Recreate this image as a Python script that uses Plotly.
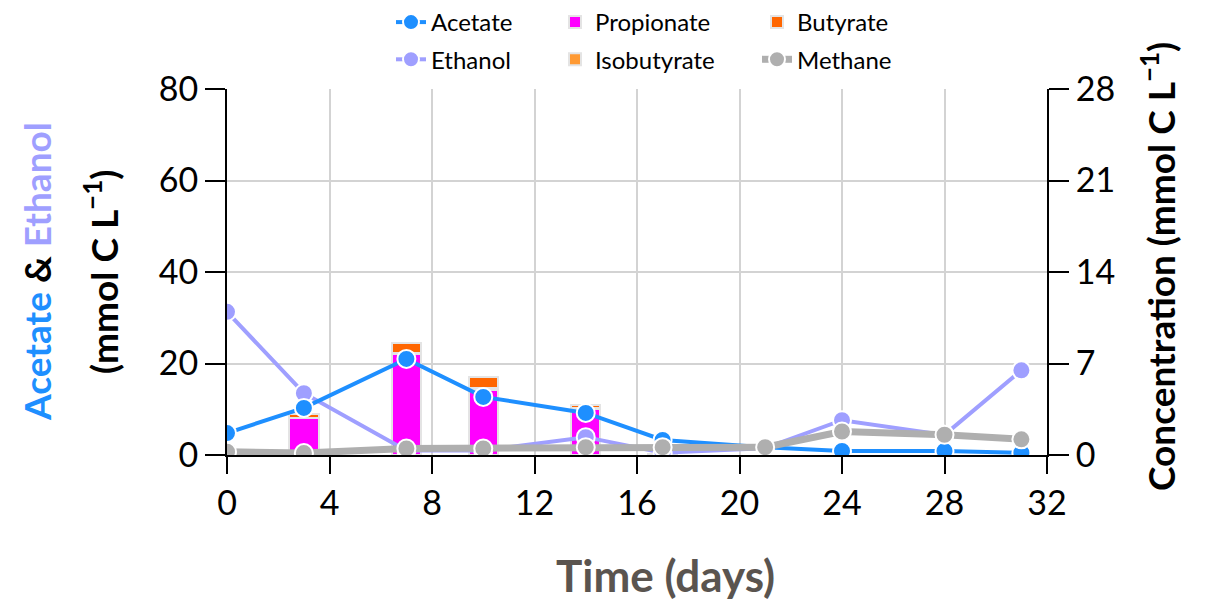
import plotly.graph_objects as go

days = [0, 3, 7, 10, 14, 17, 21, 24, 28, 31]
acetate = [4.8, 10.3, 21.0, 12.7, 9.2, 3.3, 1.7, 0.9, 0.9, 0.5]
ethanol = [31.3, 13.5, 1.0, 1.0, 3.9, 0.5, 1.5, 7.6, 4.4, 18.5]
methane = [0.25, 0.15, 0.5, 0.5, 0.6, 0.6, 0.6, 1.8, 1.55, 1.2]

bar_days = [3, 7, 10, 14, 17]
propionate = [2.8, 7.7, 5.0, 3.5, 0.1]
isobutyrate = [0.06, 0.1, 0.1, 0.06, 0.0]
butyrate = [0.3, 0.75, 0.85, 0.25, 0.0]

x_ticks = [0, 4, 8, 12, 16, 20, 24, 28, 32]
left_ticks = [0, 20, 40, 60, 80]
right_ticks = [0, 7, 14, 21, 28]

FONT = "Lato"
C_ACE = "#1E8FFF"
C_ETH = "#9F9FFF"
C_MET = "#AFAFAF"

fig = go.Figure()

bar_line = dict(color="#E4E4E4", width=2)
fig.add_trace(go.Bar(x=bar_days, y=propionate, name="Propionate", width=1.15,
                     marker=dict(color="#FF00FF", line=bar_line), yaxis="y",
                     legend="legend2", legendgroup="p", legendrank=1))
fig.add_trace(go.Bar(x=bar_days, y=isobutyrate, name="Isobutyrate", width=1.15,
                     marker=dict(color="#FF9A33", line=bar_line), yaxis="y",
                     legend="legend2", legendgroup="i", legendrank=2))
fig.add_trace(go.Bar(x=bar_days, y=butyrate, name="Butyrate", width=1.15,
                     marker=dict(color="#FF6600", line=bar_line), yaxis="y",
                     legend="legend3", legendgroup="b", legendrank=1))

fig.add_trace(go.Scatter(x=days, y=ethanol, name="Ethanol", mode="lines+markers",
                         line=dict(color=C_ETH, width=4),
                         marker=dict(size=18, color=C_ETH, line=dict(color="white", width=2)),
                         yaxis="y2", legend="legend", legendgroup="e", legendrank=2))
fig.add_trace(go.Scatter(x=days, y=acetate, name="Acetate", mode="lines+markers",
                         line=dict(color=C_ACE, width=4),
                         marker=dict(size=18, color=C_ACE, line=dict(color="white", width=2)),
                         yaxis="y2", legend="legend", legendgroup="a", legendrank=1))
fig.add_trace(go.Scatter(x=days, y=methane, name="Methane", mode="lines+markers",
                         line=dict(color=C_MET, width=7),
                         marker=dict(size=18, color=C_MET, line=dict(color="white", width=2)),
                         yaxis="y3", legend="legend3", legendgroup="m", legendrank=2))

legend_common = dict(xref="container", yref="container", xanchor="left", yanchor="top",
                     orientation="v", traceorder="grouped", tracegroupgap=3,
                     font=dict(family=FONT, size=24, color="black"),
                     bgcolor="rgba(0,0,0,0)", borderwidth=0)

tickfont = dict(family=FONT, size=34, color="black")

fig.update_layout(
    width=1212, height=600,
    margin=dict(l=227, r=165, t=89, b=145, autoexpand=False),
    plot_bgcolor="white", paper_bgcolor="white",
    barmode="stack", bargap=0,
    font=dict(family=FONT, color="black"),
    legend=dict(x=391 / 1212, y=1, **legend_common),
    legend2=dict(x=555 / 1212, y=1, **legend_common),
    legend3=dict(x=757 / 1212, y=1, **legend_common),
    xaxis=dict(range=[0, 32], tickvals=x_ticks, ticks="outside", ticklen=17,
               tickwidth=2, tickcolor="black", showline=True, linecolor="black",
               linewidth=2, showgrid=True, gridcolor="#D3D3D3", gridwidth=2,
               zeroline=False, tickfont=tickfont, automargin=False),
    yaxis=dict(range=[0, 28], tickvals=right_ticks, side="right", ticks="outside",
               ticklen=20, tickwidth=2, tickcolor="black", showline=True,
               linecolor="black", linewidth=2, showgrid=True, gridcolor="#D3D3D3",
               gridwidth=2, zeroline=False, tickfont=tickfont, automargin=False),
    yaxis2=dict(range=[0, 80], tickvals=left_ticks, side="left", overlaying="y",
                ticks="outside", ticklen=20, tickwidth=2, tickcolor="black",
                showline=True, linecolor="black", linewidth=2, showgrid=False,
                zeroline=False, tickfont=tickfont, automargin=False),
    yaxis3=dict(range=[0, 28], overlaying="y", side="right", showticklabels=False,
                ticks="", showline=False, showgrid=False, zeroline=False,
                automargin=False),
)

title_font = dict(family=FONT, size=37, color="black", weight="bold")
fig.add_annotation(
    text=f"<span style='color:{C_ACE}'>Acetate</span> &amp; <span style='color:{C_ETH}'>Ethanol</span>",
    xref="paper", yref="paper", x=(36 - 227) / 820, y=(455 - 272) / 366,
    xanchor="center", yanchor="middle", textangle=-90, showarrow=False,
    font=title_font)
fig.add_annotation(
    text="(mmol C L<sup>−1</sup>)",
    xref="paper", yref="paper", x=(101 - 227) / 820, y=(455 - 272) / 366,
    xanchor="center", yanchor="middle", textangle=-90, showarrow=False,
    font=title_font)
fig.add_annotation(
    text="Concentration (mmol C L<sup>−1</sup>)",
    xref="paper", yref="paper", x=(1158 - 227) / 820, y=(455 - 267) / 366,
    xanchor="center", yanchor="middle", textangle=-90, showarrow=False,
    font=title_font)
fig.add_annotation(
    text="Time (days)",
    xref="paper", yref="paper", x=(665 - 227) / 820, y=(455 - 575) / 366,
    xanchor="center", yanchor="middle", showarrow=False,
    font=dict(family=FONT, size=44, color="#5A544F", weight="bold"))

fig.write_html("out.html")
